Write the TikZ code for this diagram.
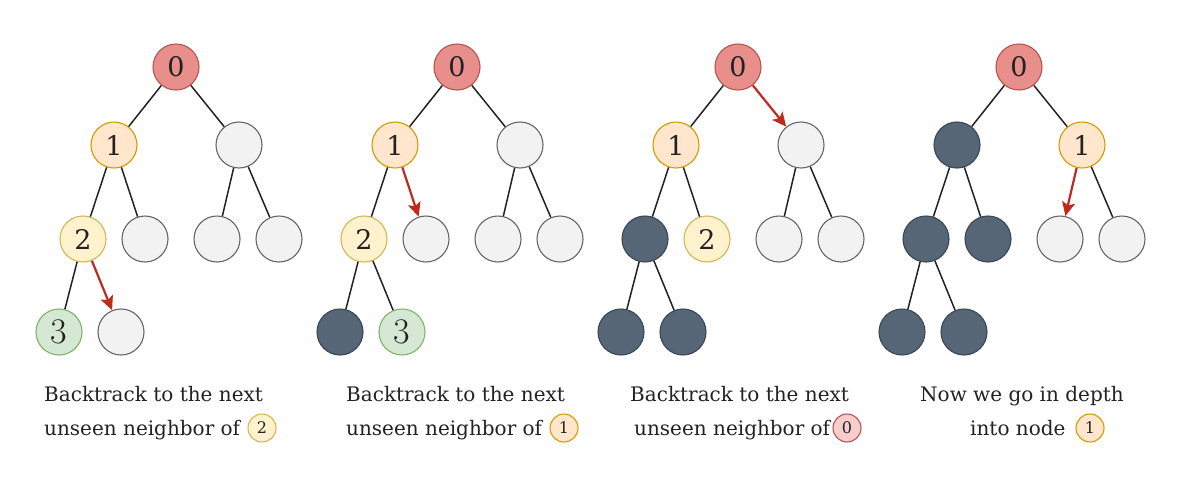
\documentclass[tikz,border=0pt]{standalone}
\usepackage{fontspec}
\setmainfont{DejaVu Serif}
\usetikzlibrary{arrows.meta}

\definecolor{redfill}{HTML}{E88F8C}
\definecolor{redline}{HTML}{B85450}
\definecolor{pinkfill}{HTML}{F8CECC}
\definecolor{orangefill}{HTML}{FFE6CC}
\definecolor{orangeline}{HTML}{D79B00}
\definecolor{yellowfill}{HTML}{FFF2CC}
\definecolor{yellowline}{HTML}{D6B656}
\definecolor{greenfill}{HTML}{D5E8D4}
\definecolor{greenline}{HTML}{82B366}
\definecolor{grayfill}{HTML}{F2F2F2}
\definecolor{grayline}{HTML}{666666}
\definecolor{darkfill}{HTML}{566677}
\definecolor{darkline}{HTML}{3A4754}
\definecolor{arrowred}{HTML}{BF2A1F}
\definecolor{textgray}{HTML}{222222}

\tikzset{
    vertex/.style={circle, minimum size=46pt, inner sep=0pt, line width=1.1pt,
        text=textgray, font=\fontsize{27}{27}\selectfont},
    rednode/.style={vertex, draw=redline, fill=redfill},
    orangenode/.style={vertex, draw=orangeline, fill=orangefill},
    yellownode/.style={vertex, draw=yellowline, fill=yellowfill},
    greennode/.style={vertex, draw=greenline, fill=greenfill,
        font=\fontfamily{lmr}\fontsize{36}{36}\selectfont},
    unseen/.style={vertex, draw=grayline, fill=grayfill},
    seen/.style={vertex, draw=darkline, fill=darkfill},
    link/.style={draw=textgray, line width=1.5pt},
    back/.style={draw=arrowred, line width=2.2pt,
        -{Stealth[length=14pt, width=13pt, inset=3pt]}},
    caption/.style={anchor=base west, inner sep=0pt, text=textgray,
        font=\fontsize{20}{33}\selectfont},
    badge/.style={circle, minimum size=28pt, inner sep=0pt, line width=1.1pt,
        text=textgray, font=\fontsize{16}{16}\selectfont}
}

\begin{document}
\begin{tikzpicture}[x=1pt, y=-1pt]
    \useasboundingbox (0, 0) rectangle (1198, 482);

    % first tree
    \begin{scope}[shift={(176, 0)}]
        \node [rednode] (p1r) at (0, 67) {0};
        \node [orangenode] (p1a) at (-62, 145) {1};
        \node [unseen] (p1b) at (63, 145) {};
        \node [yellownode] (p1aa) at (-93, 239) {2};
        \node [unseen] (p1ab) at (-31, 239) {};
        \node [unseen] (p1ba) at (41, 239) {};
        \node [unseen] (p1bb) at (103, 239) {};
        \node [greennode] (p1aaa) at (-117, 332) {3};
        \node [unseen] (p1aab) at (-55, 332) {};
    \end{scope}
    \foreach \u/\v in {r/a, r/b, a/aa, a/ab, b/ba, b/bb, aa/aaa}
        \draw [link] (p1\u) -- (p1\v);
    \draw [back] (p1aa) -- (p1aab);

    % second tree
    \begin{scope}[shift={(457, 0)}]
        \node [rednode] (p2r) at (0, 67) {0};
        \node [orangenode] (p2a) at (-62, 145) {1};
        \node [unseen] (p2b) at (63, 145) {};
        \node [yellownode] (p2aa) at (-93, 239) {2};
        \node [unseen] (p2ab) at (-31, 239) {};
        \node [unseen] (p2ba) at (41, 239) {};
        \node [unseen] (p2bb) at (103, 239) {};
        \node [seen] (p2aaa) at (-117, 332) {};
        \node [greennode] (p2aab) at (-55, 332) {3};
    \end{scope}
    \foreach \u/\v in {r/a, r/b, a/aa, b/ba, b/bb, aa/aaa, aa/aab}
        \draw [link] (p2\u) -- (p2\v);
    \draw [back] (p2a) -- (p2ab);

    % third tree
    \begin{scope}[shift={(738, 0)}]
        \node [rednode] (p3r) at (0, 67) {0};
        \node [orangenode] (p3a) at (-62, 145) {1};
        \node [unseen] (p3b) at (63, 145) {};
        \node [seen] (p3aa) at (-93, 239) {};
        \node [yellownode] (p3ab) at (-31, 239) {2};
        \node [unseen] (p3ba) at (41, 239) {};
        \node [unseen] (p3bb) at (103, 239) {};
        \node [seen] (p3aaa) at (-117, 332) {};
        \node [seen] (p3aab) at (-55, 332) {};
    \end{scope}
    \foreach \u/\v in {r/a, a/aa, a/ab, b/ba, b/bb, aa/aaa, aa/aab}
        \draw [link] (p3\u) -- (p3\v);
    \draw [back] (p3r) -- (p3b);

    % fourth tree
    \begin{scope}[shift={(1019, 0)}]
        \node [rednode] (p4r) at (0, 67) {0};
        \node [seen] (p4a) at (-62, 145) {};
        \node [orangenode] (p4b) at (63, 145) {1};
        \node [seen] (p4aa) at (-93, 239) {};
        \node [seen] (p4ab) at (-31, 239) {};
        \node [unseen] (p4ba) at (41, 239) {};
        \node [unseen] (p4bb) at (103, 239) {};
        \node [seen] (p4aaa) at (-117, 332) {};
        \node [seen] (p4aab) at (-55, 332) {};
    \end{scope}
    \foreach \u/\v in {r/a, r/b, a/aa, a/ab, b/bb, aa/aaa, aa/aab}
        \draw [link] (p4\u) -- (p4\v);
    \draw [back] (p4b) -- (p4ba);

    % captions
    \node [caption] (c1a) at (44, 401) {Backtrack to the next};
    \node [caption] (c1b) at (44, 435) {unseen neighbor of};
    \node [badge, draw=yellowline, fill=yellowfill] (c1n) at (262, 428) {2};
    \node [caption] (c2a) at (346, 401) {Backtrack to the next};
    \node [caption] (c2b) at (346, 435) {unseen neighbor of};
    \node [badge, draw=orangeline, fill=orangefill] (c2n) at (564, 428) {1};
    \node [caption] (c3a) at (630, 401) {Backtrack to the next};
    \node [caption] (c3b) at (634, 435) {unseen neighbor of};
    \node [badge, draw=redline, fill=pinkfill] (c3n) at (847, 428) {0};
    \node [caption] (c4a) at (920, 401) {Now we go in depth};
    \node [caption] (c4b) at (970, 435) {into node};
    \node [badge, draw=orangeline, fill=orangefill] (c4n) at (1090, 428) {1};
\end{tikzpicture}
\end{document}
